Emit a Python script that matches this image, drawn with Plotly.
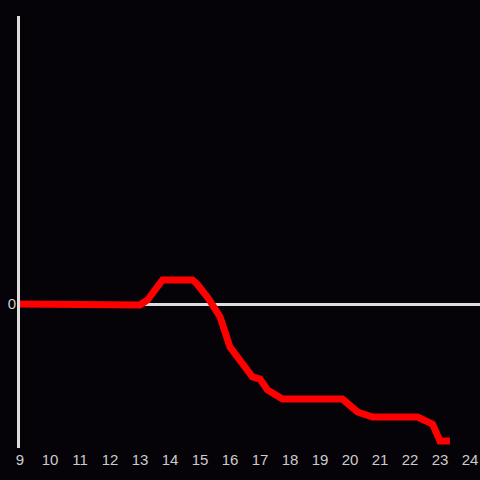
import plotly.graph_objects as go

hours = [9, 12.75, 13.0, 13.25, 13.75, 14.75, 14.9, 15.27, 15.67, 16.0, 16.75, 17.0, 17.25, 17.75, 19.75, 20.25, 20.75, 22.25, 22.75, 23.0, 23.33]
values = [0, 0, -1, 4, 24, 24, 20, 6, -13, -43, -73, -75, -86, -95, -95, -108, -113, -113, -120, -137, -137]

tick_vals = list(range(9, 25))
tick_text = [str(v) for v in tick_vals]

fig = go.Figure()
fig.add_trace(go.Scatter(
    x=hours, y=values, mode="lines",
    line=dict(color="#ff0000", width=7),
    hoverinfo="skip", showlegend=False,
))

fig.update_layout(
    width=480, height=480,
    margin=dict(l=20, r=0, t=16, b=32),
    paper_bgcolor="#050308",
    plot_bgcolor="#050308",
    font=dict(family="Liberation Sans, Arial, sans-serif", size=15, color="#cccccc"),
    xaxis=dict(
        range=[9, 24.3333], tickvals=tick_vals, ticktext=tick_text,
        showgrid=False, zeroline=False, showline=False, ticks="",
        ticklabelstandoff=1,
    ),
    yaxis=dict(
        range=[-144, 288], tickvals=[0], ticktext=["0"],
        showgrid=False, zeroline=True, zerolinecolor="#dddddd", zerolinewidth=3,
        showline=True, linecolor="#dddddd", linewidth=3, ticks="",
        ticklabelstandoff=-2,
    ),
)

fig.write_html(
    "out.html",
    config={"displayModeBar": False, "staticPlot": True},
    post_script="document.body.style.margin='0';document.body.style.background='#050308';",
)
